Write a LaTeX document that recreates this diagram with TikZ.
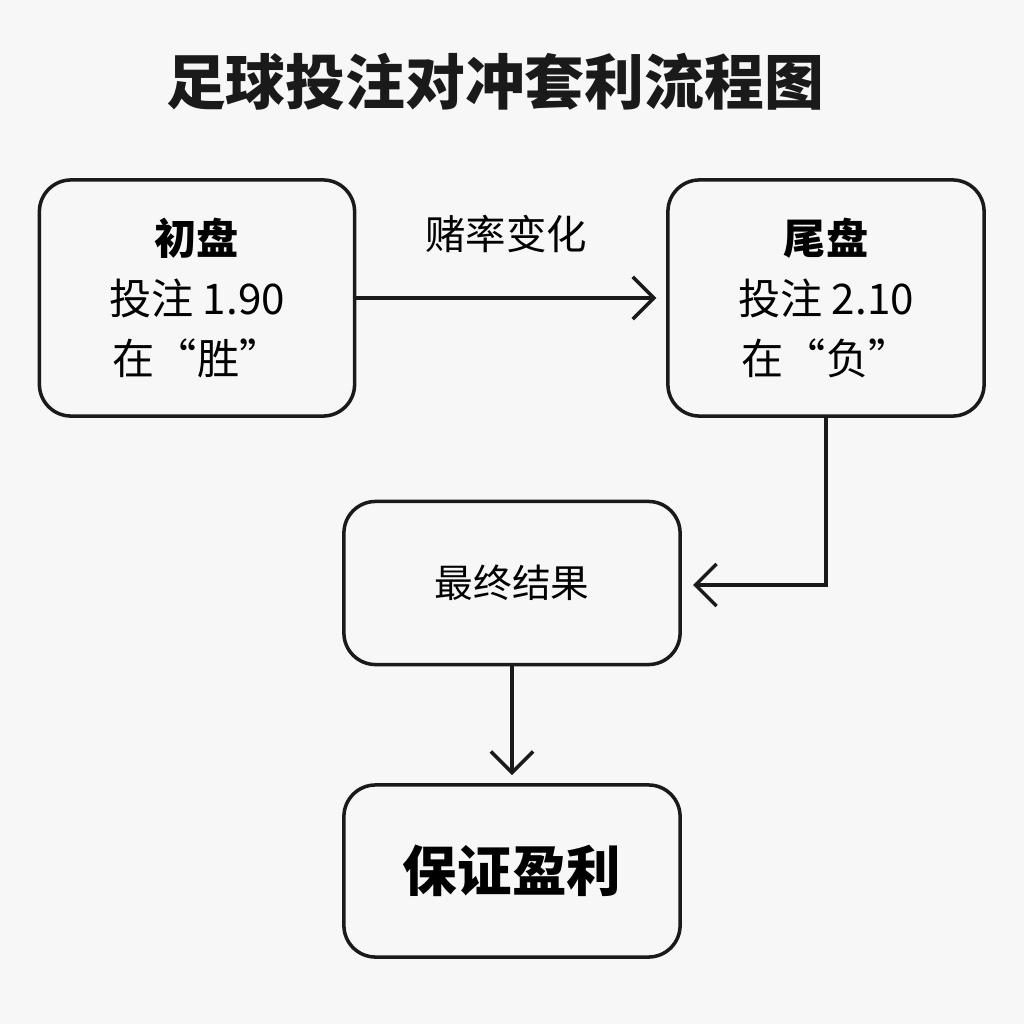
\documentclass[tikz,border=0pt]{standalone}
\usepackage{fontspec}
\setmainfont{Noto Sans CJK SC}
\usetikzlibrary{arrows.meta,positioning}
\definecolor{bgc}{HTML}{F7F7F7}
\definecolor{ink}{HTML}{1A1A1A}
\tikzset{
  box/.style={draw=ink,line width=1pt,rounded corners=9pt,fill=bgc,
    align=center,inner sep=0pt},
  flow/.style={draw=ink,line width=1pt,-{Straight Barb[length=6pt,width=12pt]}}
}

\begin{document}
\begin{tikzpicture}[x=0.01cm,y=-0.01cm]
    \fill [bgc] (0,0) rectangle (1024,1024);
    \useasboundingbox (0,0) rectangle (1024,1024);
    \node [text=ink,font=\fontsize{17}{20}\selectfont\bfseries] (title) at (495,82) {足球投注对冲套利流程图};
    \node [box,minimum width=3.15cm,minimum height=2.36cm,
        font=\fontsize{12}{17}\selectfont] (open) at (197,298)
        {{\bfseries 初盘}\\投注 1.90\\在“胜”};
    \node [box,minimum width=3.16cm,minimum height=2.36cm,
        font=\fontsize{12}{17}\selectfont] (close) at (826,298)
        {{\bfseries 尾盘}\\投注 2.10\\在“负”};
    \node [box,minimum width=3.36cm,minimum height=1.63cm,
        font=\fontsize{11}{14}\selectfont] (result) at (512,583) {最终结果};
    \node [box,minimum width=3.36cm,minimum height=1.72cm,
        font=\fontsize{15.5}{18}\selectfont\bfseries] (profit) at (512,871) {保证盈利};
    \coordinate (turn) at (826,585);
    \coordinate (resin) at (693,585);
    \coordinate (profin) at (512,775);
    \draw [flow] (open.east) -- node [above=0.32cm,font=\fontsize{11.5}{14}\selectfont] {赌率变化} ++(300,0);
    \draw [flow] (close.south) -- (turn) -- (resin);
    \draw [flow] (result.south) -- (profin);
\end{tikzpicture}
\end{document}
